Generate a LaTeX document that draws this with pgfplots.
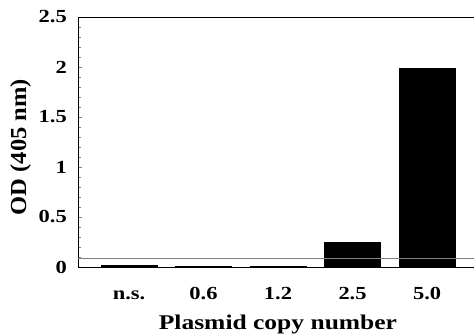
\documentclass[border=0pt]{standalone}
\usepackage{pgfplots}
\pgfplotsset{compat=1.18}
\usepackage{fontspec}
\setmainfont{Liberation Serif}[FakeStretch=1.22]
\newfontfamily\ylfont{Liberation Serif}[FakeStretch=1.07]
\begin{document}
\begin{tikzpicture}[x=1bp,y=1bp]
\begin{axis}[
  scale only axis,
  width=396bp, height=250bp,
  xmin=-0.685, xmax=4.63,
  ymin=0, ymax=2.5,
  axis x line=box,
  axis y line=left,
  axis line style={-, thin},
  ybar, bar width=56bp,
  bar shift=0pt,
  xtick=data,
  xticklabels={n.s., 0.6, 1.2, 2.5, 5.0},
  x tick style={draw=none},
  ytick={0,0.5,1,1.5,2,2.5},
  yticklabels={0,0.5,1,1.5,2,2.5},
  minor y tick num=4,
  tick align=inside,
  ytick pos=left,
  major tick length=4bp,
  minor tick length=3bp,
  ticklabel style={font=\fontsize{18.5}{20}\selectfont\bfseries},
  xticklabel style={anchor=base, yshift=-32bp},
  yticklabel style={anchor=east, inner sep=0pt, xshift=-11bp},
  xlabel={Plasmid copy number},
  ylabel={OD (405 nm)},
  xlabel style={font=\fontsize{21}{24}\selectfont\bfseries, at={(axis description cs:0.505,0)}, anchor=base, yshift=-62bp},
  ylabel style={font=\ylfont\fontsize{23}{26}\selectfont\bfseries, at={(axis description cs:-0.131,0.48)}, anchor=base},
]
\addplot[fill=black, draw=black] coordinates {(0,0.015) (1,0.008) (2,0.008) (3,0.25) (4,1.99)};
\addplot[gray, thin, sharp plot, forget plot] coordinates {(-0.685,0.085) (4.63,0.085)};
\end{axis}
\pgfresetboundingbox
\path (current axis.south west) ++(-78bp,-68bp) rectangle ([yshift=17bp]current axis.north east);
\end{tikzpicture}
\end{document}
